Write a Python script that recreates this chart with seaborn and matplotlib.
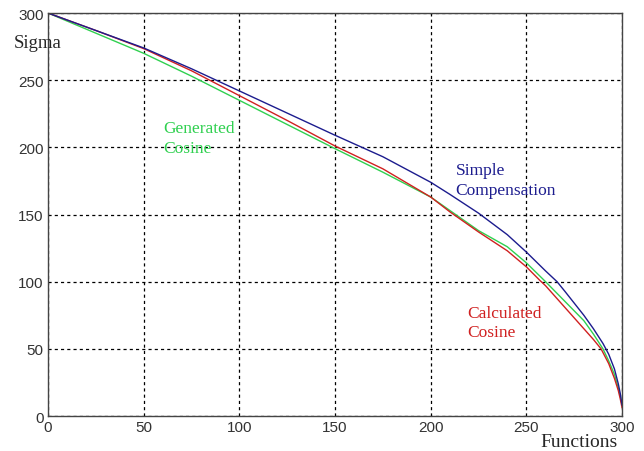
import numpy as np
import pandas as pd
import matplotlib
matplotlib.use("Agg")
import matplotlib.pyplot as plt
import seaborn as sns

# Data
blue_x = [0, 25, 50, 75, 100, 125, 150, 175, 200, 210, 225, 240, 250, 260, 266, 270, 280, 285, 290, 293, 296, 298, 299, 300]
blue_y = [300, 287, 274, 258.5, 242, 225.5, 209, 193, 174, 165, 151, 135, 122, 108, 100, 93, 75, 65, 54, 46, 35, 24, 17, 8]

red_x = [0, 25, 50, 75, 100, 125, 150, 175, 200, 210, 225, 240, 250, 257, 260, 270, 280, 285, 289, 293, 296, 298, 299, 300]
red_y = [300, 287, 273.5, 257, 238.5, 220, 201, 184, 163, 152, 137, 123, 111, 101, 97, 81, 65, 57, 50, 39, 28, 19, 13, 6]

green_x = [0, 25, 50, 75, 100, 125, 150, 175, 200, 210, 225, 240, 250, 260, 270, 280, 285, 290, 293, 296, 298, 299, 300]
green_y = [300, 285, 270, 253, 235, 217, 199, 181.5, 163, 153, 138, 126, 114, 100, 85.5, 71, 61, 50, 41, 31, 21, 15, 8]

series_names = ["Simple Compensation", "Calculated Cosine", "Generated Cosine"]
x_ticks = [0, 50, 100, 150, 200, 250, 300]
y_ticks = [0, 50, 100, 150, 200, 250, 300]

df = pd.concat([
    pd.DataFrame({"x": blue_x, "y": blue_y, "s": series_names[0]}),
    pd.DataFrame({"x": red_x, "y": red_y, "s": series_names[1]}),
    pd.DataFrame({"x": green_x, "y": green_y, "s": series_names[2]}),
], ignore_index=True)

palette = {series_names[0]: "#1c1c8e", series_names[1]: "#d02020", series_names[2]: "#30d050"}

sns.set_style("white")
fig = plt.figure(figsize=(6.44, 4.52), dpi=100)
ax = fig.add_axes([0.0745, 0.0774, 0.8915, 0.8916])

sns.lineplot(data=df, x="x", y="y", hue="s", palette=palette, ax=ax,
             hue_order=[series_names[2], series_names[1], series_names[0]],
             linewidth=1.0, legend=False, sort=False, estimator=None)

ax.set_xlim(0, 300)
ax.set_ylim(0, 300)
ax.set_xticks(x_ticks)
ax.set_yticks(y_ticks)
ax.set_xlabel("")
ax.set_ylabel("")
ax.grid(True, color="black", linestyle=(0, (2.5, 2.5)), linewidth=0.9)
for sp in ax.spines.values():
    sp.set_color("#444444")
    sp.set_linewidth(1.0)
ax.tick_params(axis="both", length=0, pad=3, labelsize=11, labelcolor="#333333")
for lab in ax.get_xticklabels() + ax.get_yticklabels():
    lab.set_family("Liberation Sans")

serif = "Liberation Serif"
ax.text(60, 220, "Generated\nCosine", color="#30d050", fontsize=12.5, family=serif,
        ha="left", va="top", linespacing=1.3)
ax.text(213, 189, "Simple\nCompensation", color="#1c1c8e", fontsize=12.5, family=serif,
        ha="left", va="top", linespacing=1.3)
ax.text(219, 83, "Calculated\nCosine", color="#d02020", fontsize=12.5, family=serif,
        ha="left", va="top", linespacing=1.3)
fig.text(14 / 644, 1 - 44 / 452, "Sigma", fontsize=13.5, family=serif, ha="left", va="center")
fig.text(540 / 644, 1 - 443 / 452, "Functions", fontsize=14, family=serif, ha="left", va="center")

fig.savefig("out.png", dpi=100)
